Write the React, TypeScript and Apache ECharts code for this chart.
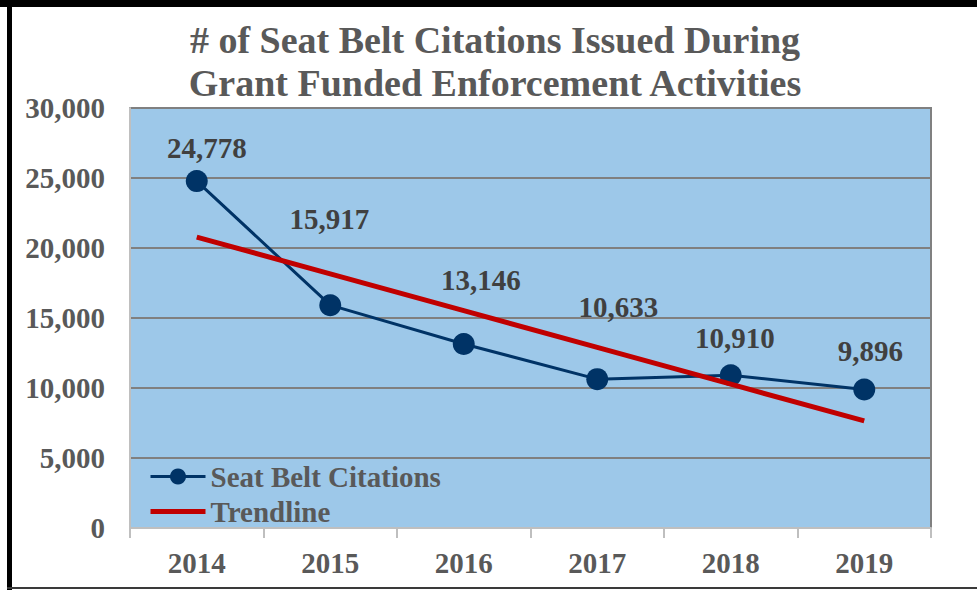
import React, { useEffect, useRef } from "react";
import * as echarts from "echarts";

const categories = ["2014", "2015", "2016", "2017", "2018", "2019"];
const citations = [24778, 15917, 13146, 10633, 10910, 9896];
const trendline = [20781, 18154, 15527, 12900, 10273, 7646];
const yMin = 0;
const yMax = 30000;
const yInterval = 5000;
const seriesNames = ["Seat Belt Citations", "Trendline"];
const titleLines = ["# of Seat Belt Citations Issued During", "Grant Funded Enforcement Activities"];

// label placement (layout only)
const labelOffsets = [
  [10, -33],
  [-1, -86],
  [17, -64],
  [21, -72],
  [4, -37],
  [6, -38],
];

const FONT = '"Liberation Serif", "Times New Roman", serif';

export default function App() {
  const ref = useRef<HTMLDivElement>(null);
  useEffect(() => {
    if (!ref.current) return;
    const chart = echarts.init(ref.current, undefined, { renderer: "svg" });
    chart.setOption({
      animation: false,
      backgroundColor: "#ffffff",
      title: {
        text: titleLines.join("\n"),
        left: 495,
        top: 18,
        padding: 0,
        textAlign: "center",
        textStyle: {
          fontFamily: FONT,
          fontWeight: "bold",
          fontSize: 38,
          lineHeight: 43,
          color: "#595959",
        },
      },
      graphic: [
        { type: "rect", shape: { x: 0, y: 0, width: 977, height: 7 }, style: { fill: "#000000" }, z: 100 },
        { type: "rect", shape: { x: 7, y: 0, width: 5, height: 590 }, style: { fill: "#000000" }, z: 100 },
        { type: "rect", shape: { x: 7, y: 587, width: 970, height: 2 }, style: { fill: "#3a3a3a" }, z: 100 },
      ],
      legend: {
        left: 148,
        top: 462,
        padding: 0,
        orient: "vertical",
        itemWidth: 55,
        itemHeight: 20,
        itemGap: 6,
        lineStyle: { width: "inherit" },
        data: [
          { name: seriesNames[0], lineStyle: { width: 3 } },
          { name: seriesNames[1], itemStyle: { opacity: 0 }, lineStyle: { width: 5 } },
        ],
        textStyle: {
          fontFamily: FONT,
          fontWeight: "bold",
          fontSize: 29,
          color: "#595959",
        },
      },
      grid: {
        left: 130,
        right: 46,
        top: 108,
        bottom: 62,
        show: true,
        backgroundColor: "#9DC8E9",
        borderColor: "#808080",
        borderWidth: 2,
      },
      xAxis: {
        type: "category",
        data: categories,
        boundaryGap: true,
        axisLine: { show: true, lineStyle: { color: "#BFBFBF", width: 2 } },
        axisTick: { show: true, length: 10, lineStyle: { color: "#BFBFBF", width: 2 } },
        axisLabel: {
          margin: 20,
          fontFamily: FONT,
          fontWeight: "bold",
          fontSize: 29,
          color: "#595959",
        },
      },
      yAxis: {
        type: "value",
        min: yMin,
        max: yMax,
        interval: yInterval,
        axisLine: { show: true, lineStyle: { color: "#BFBFBF", width: 2 } },
        axisTick: { show: false },
        splitLine: { show: true, lineStyle: { color: "#808080", width: 2 } },
        axisLabel: {
          margin: 25,
          fontFamily: FONT,
          fontWeight: "bold",
          fontSize: 29,
          color: "#595959",
          formatter: (v: number) => v.toLocaleString("en-US"),
        },
      },
      series: [
        {
          name: seriesNames[0],
          type: "line",
          data: citations.map((v, i) => ({
            value: v,
            label: { offset: labelOffsets[i] },
          })),
          symbol: "circle",
          symbolSize: 22,
          lineStyle: { color: "#003366", width: 3 },
          itemStyle: { color: "#003366" },
          label: {
            show: true,
            position: "inside",
            fontFamily: FONT,
            fontWeight: "bold",
            fontSize: 29,
            color: "#404040",
            formatter: (p: any) => Number(p.value).toLocaleString("en-US"),
          },
          z: 2,
        },
        {
          name: seriesNames[1],
          type: "line",
          data: trendline,
          symbol: "none",
          lineStyle: { color: "#C00000", width: 5 },
          itemStyle: { color: "#C00000" },
          z: 3,
        },
      ],
    });
    return () => chart.dispose();
  }, []);
  return (
    <div
      ref={ref}
      style={{ position: "absolute", left: 0, top: 0, width: 977, height: 590 }}
    />
  );
}
